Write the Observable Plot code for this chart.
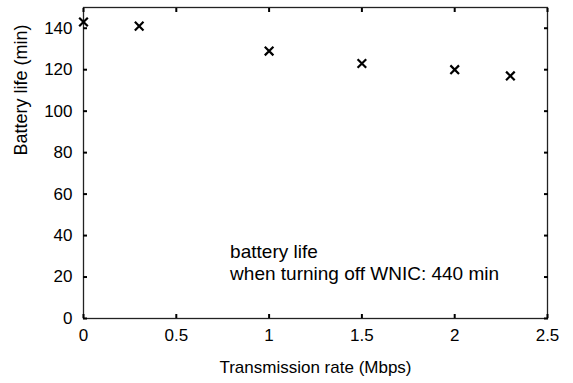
<!DOCTYPE html>
<html><head><meta charset="utf-8">
<script src="https://cdn.jsdelivr.net/npm/d3@7"></script>
<script src="https://cdn.jsdelivr.net/npm/@observablehq/plot@0.6"></script>
<style>
body{margin:0;background:#fff}
g[aria-label="x-axis tick label"], g[aria-label="y-axis tick label"] { font-size: 17px !important; }
g[aria-label="x-axis tick label"] text, g[aria-label="y-axis tick label"] text { font-size: 17px !important; }
</style>
</head><body><div id="chart"></div>
<script>
const rates = [0, 0.3, 1.0, 1.5, 2.0, 2.3];
const battery = [143, 141, 129, 123, 120, 117];
const xTicks = [0, 0.5, 1, 1.5, 2, 2.5];
const yTicks = [0, 20, 40, 60, 80, 100, 120, 140];
const xLabel = "Transmission rate (Mbps)";
const yLabel = "Battery life (min)";
const note = "battery life\nwhen turning off WNIC: 440 min";

const data = rates.map((r, i) => ({rate: r, life: battery[i]}));
const font = "Liberation Sans, Arial, Helvetica, sans-serif";

const chart = Plot.plot({
  width: 573, height: 383,
  marginLeft: 83, marginRight: 26, marginTop: 7, marginBottom: 65,
  style: {fontFamily: font, fontSize: "17px", color: "#000", background: "#fff"},
  x: {domain: [0, 2.5]},
  y: {domain: [0, 150]},
  marks: [
    Plot.frame({stroke: "#222", strokeWidth: 1.3}),
    Plot.axisX({ticks: xTicks, tickSize: 0, tickPadding: 10, tickFormat: d => String(d), label: null, fontSize: 17}),
    Plot.axisX({ticks: xTicks, tickSize: -4, text: null, label: null, strokeWidth: 2}),
    Plot.axisX({ticks: xTicks, anchor: "top", tickSize: -4, text: null, label: null, strokeWidth: 2}),
    Plot.axisY({ticks: yTicks, tickSize: 0, tickPadding: 11, label: null, fontSize: 17}),
    Plot.axisY({ticks: yTicks, tickSize: -4, text: null, label: null, strokeWidth: 2}),
    Plot.axisY({ticks: yTicks, anchor: "right", tickSize: -4, text: null, label: null, strokeWidth: 2}),
    Plot.text([xLabel], {frameAnchor: "bottom", dy: 49, fontSize: 17, lineAnchor: "middle", text: d => d}),
    Plot.text([yLabel], {frameAnchor: "left", y: () => 78.6, dx: -62, rotate: -90, fontSize: 18, text: d => d}),
    Plot.text([note], {x: 0.79, y: 36.5, text: d => d, textAnchor: "start", lineAnchor: "top", fontSize: 19, lineHeight: 1.14}),
    Plot.dot(data, {x: "rate", y: "life", symbol: "times", r: 4, stroke: "#000", strokeWidth: 2.2})
  ]
});
document.getElementById("chart").appendChild(chart);
</script>
</body></html>
